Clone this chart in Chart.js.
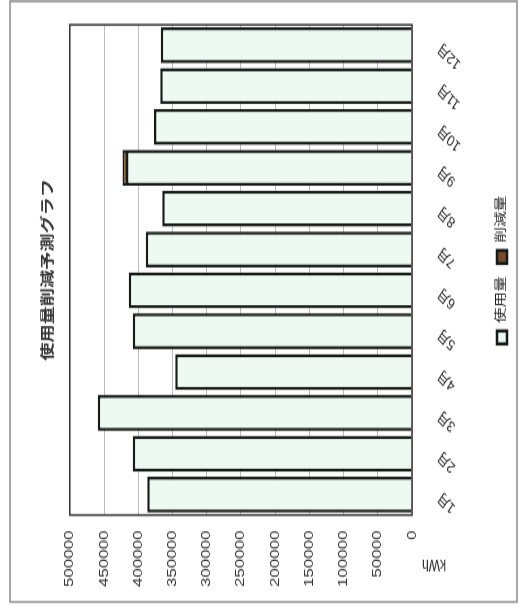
<!DOCTYPE html>
<html lang="ja">
<head>
<meta charset="utf-8">
<title>使用量削減予測グラフ</title>
<script src="https://cdn.jsdelivr.net/npm/chart.js@4.4.1/dist/chart.umd.min.js"></script>
<style>
    html, body { margin: 0; padding: 0; background: #fff; overflow: hidden; }
    #wrap { position: relative; width: 520px; height: 613px; }
    /* chart is laid out landscape, then turned a quarter turn onto the page */
    #usage-chart {
        position: absolute; left: 0; top: 0;
        transform-origin: 0 0;
        transform: translate(0, 613px) rotate(-90deg) scaleX(1.2987);
    }
</style>
</head>
<body>
<div id="wrap"><canvas id="usage-chart" width="472" height="520"></canvas></div>
<script>
const months = ['1月', '2月', '3月', '4月', '5月', '6月', '7月', '8月', '9月', '10月', '11月', '12月'];
const usage = [387000, 408000, 459000, 346000, 408000, 414000, 389000, 365000, 418000, 377000, 368000, 367000];
const reduction = [0, 0, 0, 0, 0, 0, 0, 0, 5000, 0, 0, 0];
const kwhTicks = [0, 50000, 100000, 150000, 200000, 250000, 300000, 350000, 400000, 450000, 500000];

const fontFamily = '"Liberation Sans", "Noto Sans CJK JP", sans-serif';

// outer frame, plot frame and the kWh unit label
const chartFrame = {
    id: 'chartFrame',
    beforeDraw(chart) {
        const ctx = chart.ctx;
        ctx.save();
        ctx.fillStyle = '#fff';
        ctx.fillRect(0, 0, chart.width, chart.height);
        ctx.strokeStyle = '#8a8a8a';
        ctx.lineWidth = 1.5;
        ctx.strokeRect(8.5, 10, chart.width - 9.5, chart.height - 13);
        ctx.restore();
    },
    afterDatasetsDraw(chart) {
        const ctx = chart.ctx;
        const area = chart.chartArea;
        const yAxis = chart.scales.y;
        ctx.save();
        ctx.strokeStyle = '#333';
        ctx.lineWidth = 1.5;
        ctx.strokeRect(area.left, area.top, area.right - area.left, area.bottom - area.top);

        ctx.translate((yAxis.left + yAxis.right) / 2 - 5, area.bottom + 22);
        ctx.rotate(-Math.PI / 2);
        ctx.fillStyle = '#333';
        ctx.font = '12px ' + fontFamily;
        ctx.textAlign = 'center';
        ctx.textBaseline = 'middle';
        ctx.fillText('kWh', 0, 0);
        ctx.restore();
    }
};

function drawChart() {
    const ctx = document.getElementById('usage-chart').getContext('2d');

    new Chart(ctx, {
        type: 'bar',
        data: {
            labels: months,
            datasets: [{
                label: '使用量',
                data: usage,
                backgroundColor: '#eef9f4',
                borderColor: '#151b17',
                borderWidth: 2.5,
                categoryPercentage: 0.88,
                barPercentage: 1
            }, {
                label: '削減量',
                data: reduction,
                backgroundColor: '#7b4a2e',
                borderColor: '#151b17',
                borderWidth: 2.5,
                categoryPercentage: 0.88,
                barPercentage: 1
            }]
        },
        options: {
            responsive: false,
            animation: false,
            layout: {
                padding: { top: 40, left: 10, right: 19, bottom: 2 }
            },
            scales: {
                x: {
                    stacked: true,
                    grid: { display: false, drawTicks: false },
                    border: { display: false },
                    ticks: {
                        minRotation: 50,
                        maxRotation: 50,
                        padding: 23,
                        color: '#1a1a1a',
                        font: { size: 12, family: fontFamily }
                    },
                    afterFit(axis) { axis.height = 74; }
                },
                y: {
                    stacked: true,
                    min: 0,
                    max: 500000,
                    grid: { color: '#bdbdbd', drawTicks: false },
                    border: { display: false },
                    afterBuildTicks(axis) {
                        axis.ticks = kwhTicks.map(v => ({ value: v }));
                    },
                    ticks: {
                        padding: 12,
                        color: '#333',
                        font: { size: 13, family: fontFamily },
                        callback: v => String(v)
                    },
                    afterFit(axis) { axis.width = 65.4; }
                }
            },
            plugins: {
                title: {
                    display: true,
                    text: '使用量削減予測グラフ',
                    fullSize: false,
                    color: '#333',
                    font: { size: 14, weight: 'bold', family: fontFamily },
                    padding: { top: 0, bottom: 13 }
                },
                legend: {
                    position: 'bottom',
                    fullSize: false,
                    labels: {
                        boxWidth: 10,
                        boxHeight: 10,
                        padding: 10,
                        color: '#1a1a1a',
                        font: { size: 12, family: fontFamily }
                    }
                },
                tooltip: { enabled: false }
            }
        },
        plugins: [chartFrame]
    });
}

drawChart();
</script>
</body>
</html>
